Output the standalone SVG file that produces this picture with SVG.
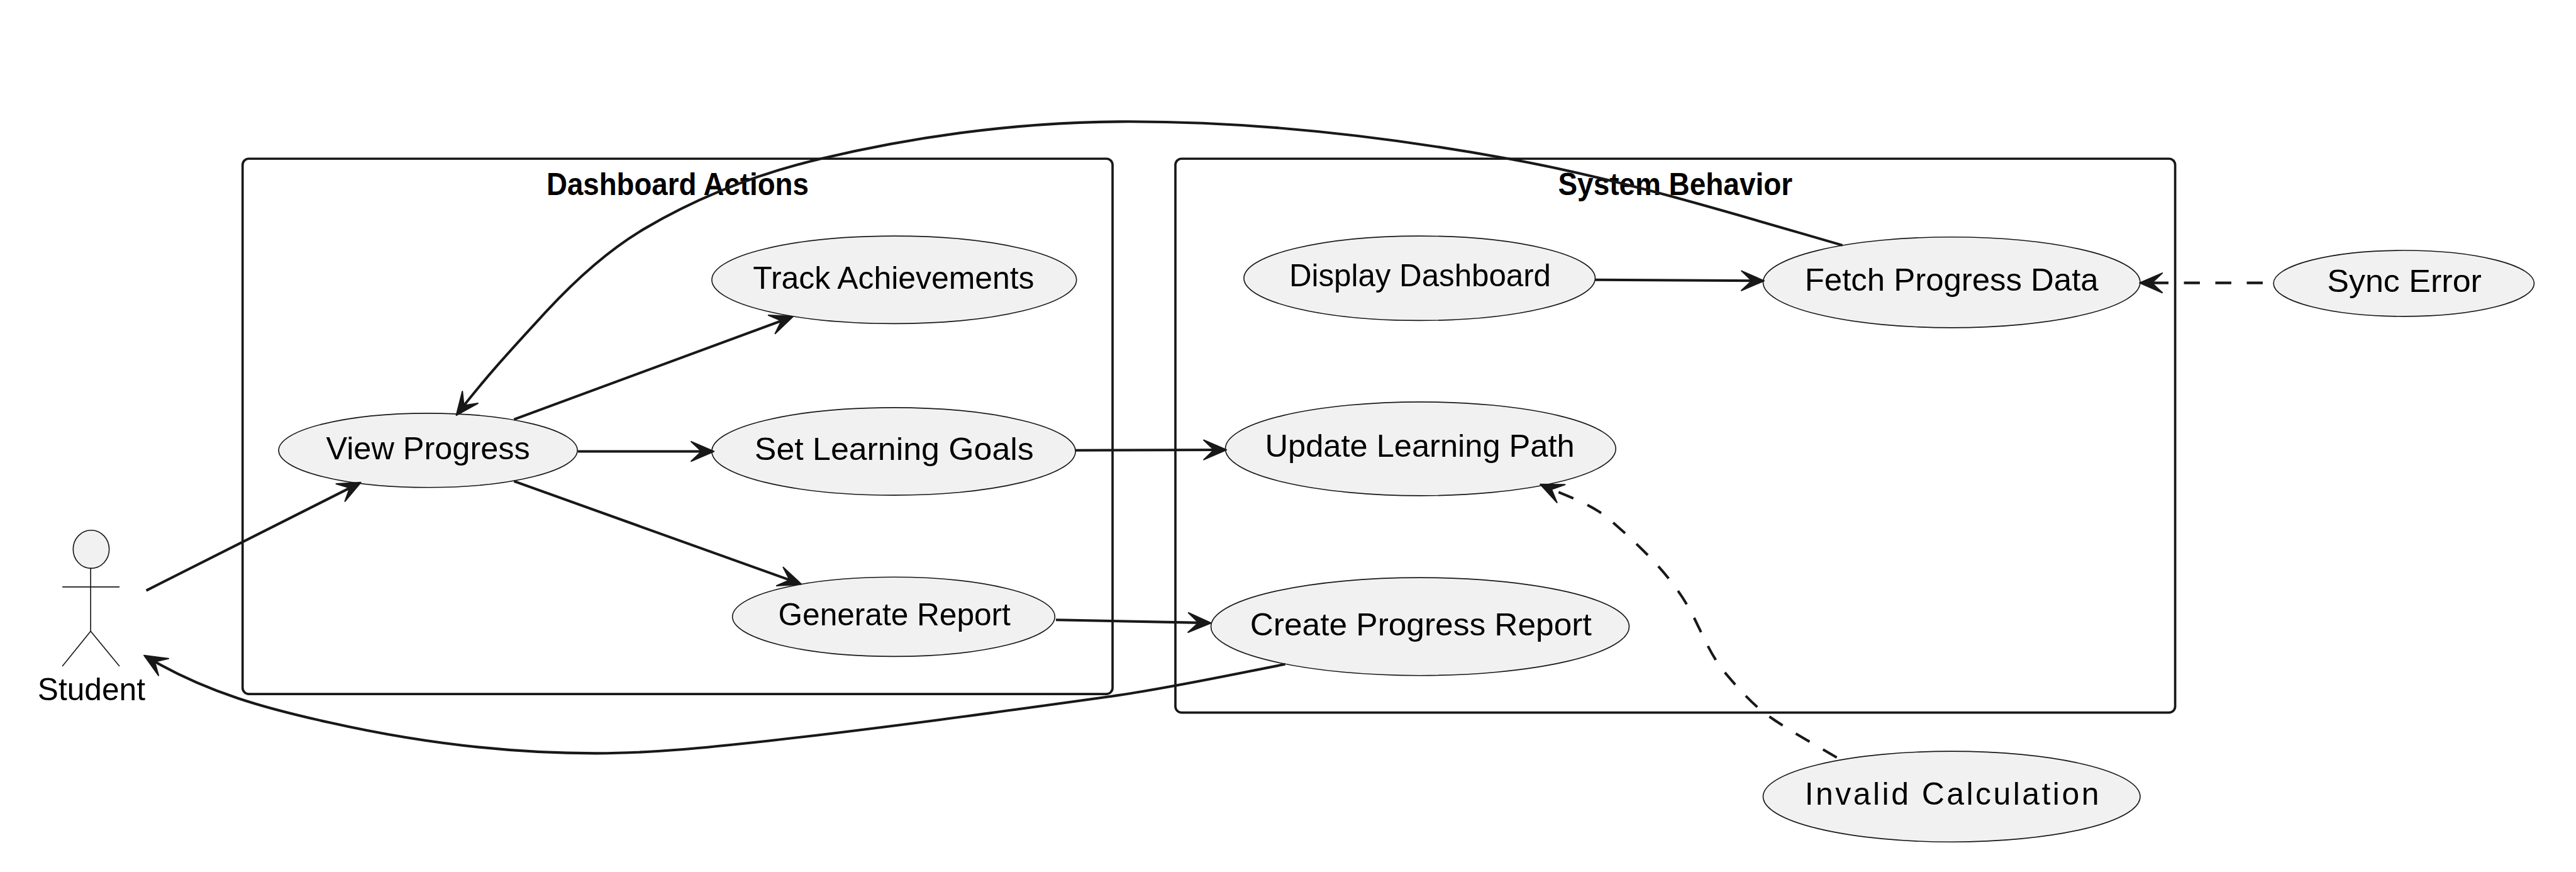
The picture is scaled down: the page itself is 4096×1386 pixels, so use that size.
<svg xmlns="http://www.w3.org/2000/svg" width="4096" height="1386" viewBox="0 0 4096 1386">
<style>
.frame{fill:none;stroke:#181818;stroke-width:4.500}
.uc{fill:#F1F1F1;stroke:#181818;stroke-width:2}
.act{fill:none;stroke:#181818;stroke-width:2}
.lbl{font-family:"Liberation Sans",Arial,sans-serif;font-size:61px;fill:#000}
.ttl{font-family:"Liberation Sans",Arial,sans-serif;font-size:61px;font-weight:700;fill:#000}
.ln{fill:none;stroke:#181818;stroke-width:5;marker-end:url(#arr)}
.dash{stroke-dasharray:31 30}
</style>
<defs>
<marker id="arr" markerUnits="userSpaceOnUse" markerWidth="60" markerHeight="50" refX="45" refY="25" orient="auto">
<path d="M50 25L6 6L26 25L6 44Z" fill="#181818" stroke="#181818" stroke-width="2.500" stroke-linejoin="round"/>
</marker>
</defs>
<rect width="4096" height="1386" fill="#fff"/>
<g transform="scale(0.819) translate(1 2)">
<g id="frame-dashboard-actions">
<rect class="frame" x="470" y="306" width="1689" height="1039" rx="12"/>
<text class="ttl" x="1060" y="376" textLength="509" lengthAdjust="spacingAndGlyphs">Dashboard Actions</text>
</g>
<g id="frame-system-behavior">
<rect class="frame" x="2281" y="306" width="1941" height="1075" rx="12"/>
<text class="ttl" x="3024" y="376" textLength="455" lengthAdjust="spacingAndGlyphs">System Behavior</text>
</g>
<g id="actor-student">
<ellipse class="uc" cx="176" cy="1064" rx="35" ry="37"/>
<path class="act" d="M175 1100V1223M120 1137H231M120 1291L175 1223L231 1291"/>
<text class="lbl" x="72" y="1357" textLength="209" lengthAdjust="spacingAndGlyphs">Student</text>
</g>
<g id="uc-view-progress">
<ellipse class="uc" cx="830" cy="872" rx="290" ry="72"/>
<text class="lbl" x="632" y="889" textLength="396" lengthAdjust="spacingAndGlyphs">View Progress</text>
</g>
<g id="uc-track-achievements">
<ellipse class="uc" cx="1735" cy="541" rx="354" ry="85"/>
<text class="lbl" x="1461" y="558" textLength="546" lengthAdjust="spacingAndGlyphs">Track Achievements</text>
</g>
<g id="uc-set-learning-goals">
<ellipse class="uc" cx="1734" cy="874" rx="353" ry="85"/>
<text class="lbl" x="1464" y="891" textLength="542" lengthAdjust="spacingAndGlyphs">Set Learning Goals</text>
</g>
<g id="uc-generate-report">
<ellipse class="uc" cx="1734" cy="1195" rx="313" ry="77"/>
<text class="lbl" x="1510" y="1212" textLength="451" lengthAdjust="spacingAndGlyphs">Generate Report</text>
</g>
<g id="uc-display-dashboard">
<ellipse class="uc" cx="2755" cy="538" rx="341" ry="82"/>
<text class="lbl" x="2502" y="554" textLength="508" lengthAdjust="spacingAndGlyphs">Display Dashboard</text>
</g>
<g id="uc-fetch-progress-data">
<ellipse class="uc" cx="3788" cy="546" rx="366" ry="88"/>
<text class="lbl" x="3503" y="562" textLength="570" lengthAdjust="spacingAndGlyphs">Fetch Progress Data</text>
</g>
<g id="uc-sync-error">
<ellipse class="uc" cx="4666" cy="548" rx="253" ry="64"/>
<text class="lbl" x="4517" y="564" textLength="300" lengthAdjust="spacingAndGlyphs">Sync Error</text>
</g>
<g id="uc-update-learning-path">
<ellipse class="uc" cx="2757" cy="869" rx="379" ry="91"/>
<text class="lbl" x="2455" y="885" textLength="601" lengthAdjust="spacingAndGlyphs">Update Learning Path</text>
</g>
<g id="uc-create-progress-report">
<ellipse class="uc" cx="2756" cy="1214" rx="406" ry="95"/>
<text class="lbl" x="2426" y="1231" textLength="663" lengthAdjust="spacingAndGlyphs">Create Progress Report</text>
</g>
<g id="uc-invalid-calculation">
<ellipse class="uc" cx="3788" cy="1544" rx="366" ry="88"/>
<text class="lbl" x="3503" y="1560" textLength="571" lengthAdjust="spacing">Invalid Calculation</text>
</g>
<g id="connectors">
<path class="ln" d="M283 1144L695 936.500"/>
<path class="ln" d="M3576 474C3358 411 3140 344 2922 305C2678 261 2435 234 2191 234C1992 234 1792 259 1593 306C1479 333 1364 375 1250 442C1187 479 1123 534 1060 602C1003 664 945 726 888 800"/>
<path class="ln" d="M997 812L1534 614"/>
<path class="ln" d="M1121 874H1380"/>
<path class="ln" d="M997 932L1550 1130"/>
<path class="ln" d="M2087 872L2375 871"/>
<path class="ln" d="M2049 1201L2345 1207"/>
<path class="ln" d="M3096 541L3419 543"/>
<path class="ln dash" d="M4392 547H4158"/>
<path class="ln dash" d="M3565 1468C3522 1442.500 3477 1418.500 3436 1390C3401.500 1366 3373 1333 3346 1301C3320 1269 3304.500 1229.500 3286 1193C3249 1120 3186.500 1061 3125 1007C3088 975 3038.600 960 2994 940"/>
<path class="ln" d="M2494 1287C2382 1309 2271 1333 2159 1349C1936 1380 1712 1411 1489 1436C1378 1448 1267 1460 1156 1460C983 1460 811 1439 638 1400C520 1374 401 1343 283 1272.500"/>
</g>
</g>
</svg>
